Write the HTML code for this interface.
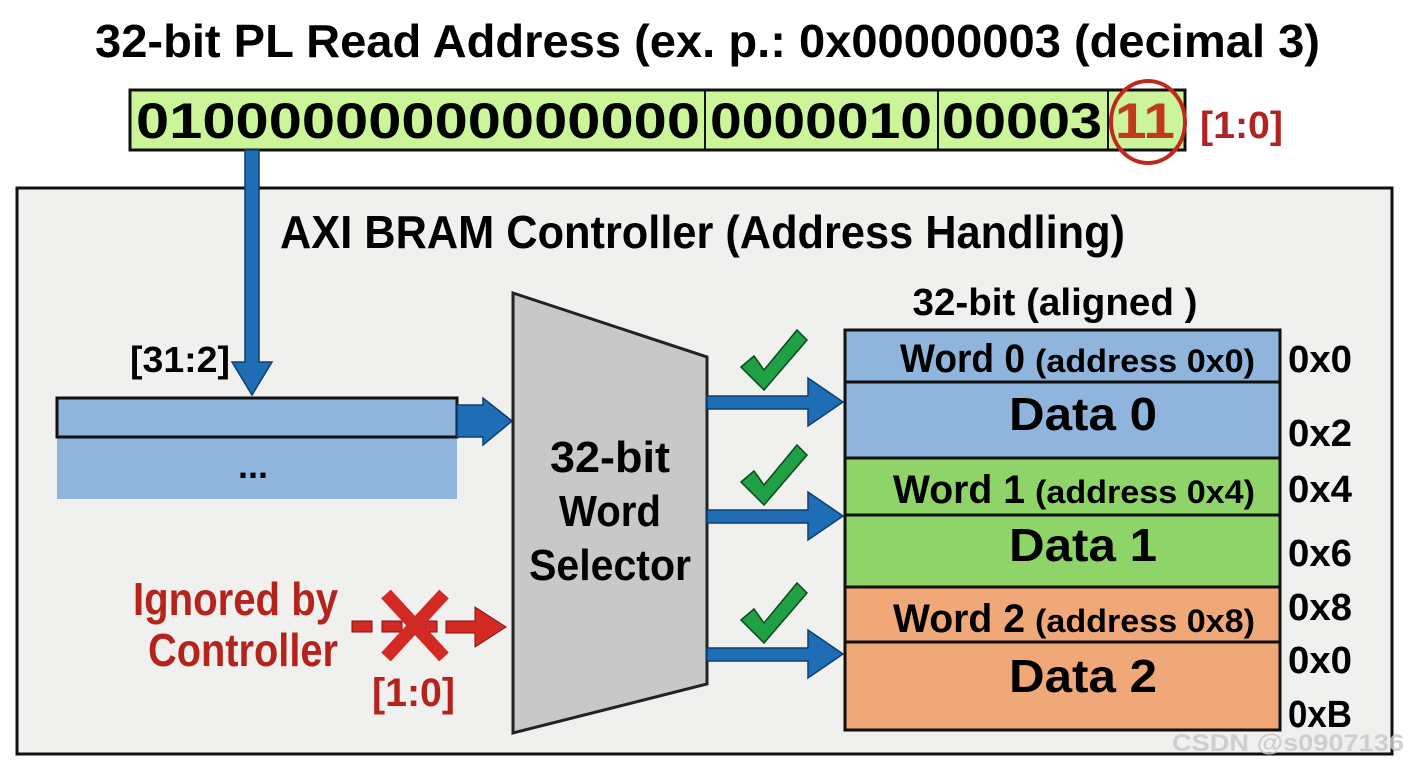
<!DOCTYPE html>
<html><head><meta charset="utf-8"><style>
html,body{margin:0;padding:0;background:#fff;}
svg{display:block;}
text{font-family:"Liberation Sans Narrow","Liberation Sans",sans-serif;font-weight:bold;}
</style></head><body>
<svg width="1408" height="768" viewBox="0 0 1408 768" xmlns="http://www.w3.org/2000/svg">
<rect width="1408" height="768" fill="#fff"/>
<text x="95" y="57" font-size="46" textLength="1225" lengthAdjust="spacingAndGlyphs">32-bit PL Read Address (ex. p.: 0x00000003 (decimal 3)</text>
<!-- binary bar -->
<rect x="130" y="90" width="1055" height="60" fill="#ccf59a" stroke="#111" stroke-width="3"/>
<line x1="705" y1="90" x2="705" y2="150" stroke="#111" stroke-width="2"/>
<line x1="938" y1="90" x2="938" y2="150" stroke="#111" stroke-width="2"/>
<line x1="1108" y1="90" x2="1108" y2="150" stroke="#111" stroke-width="2"/>
<text x="136" y="138" font-size="50" textLength="564" lengthAdjust="spacingAndGlyphs">01000000000000000</text>
<text x="710" y="138" font-size="50" textLength="222" lengthAdjust="spacingAndGlyphs">0000010</text>
<text x="942" y="138" font-size="50" textLength="160" lengthAdjust="spacingAndGlyphs">00003</text>
<text x="1115" y="138" font-size="50" fill="#c0391b" textLength="60" lengthAdjust="spacingAndGlyphs">11</text>
<ellipse cx="1148" cy="122" rx="37" ry="41" fill="none" stroke="#c0281e" stroke-width="4"/>
<text x="1200" y="138" font-size="38" fill="#b22222" font-weight="normal" textLength="83" lengthAdjust="spacingAndGlyphs">[1:0]</text>
<!-- outer box -->
<rect x="17" y="188" width="1375" height="566" fill="#f0f0ee" stroke="#111" stroke-width="3"/>
<text x="280" y="248" font-size="46" textLength="845" lengthAdjust="spacingAndGlyphs">AXI BRAM Controller (Address Handling)</text>
<!-- vertical blue arrow -->
<polygon points="245,150 259,150 259,362 272,362 252,395 232,362 245,362" fill="#1f6db5" stroke="#0d3f73" stroke-width="1.5"/>
<text x="130" y="372" font-size="36" font-weight="normal" textLength="100" lengthAdjust="spacingAndGlyphs">[31:2]</text>
<!-- register -->
<rect x="57" y="437" width="400" height="62" fill="#8fb5dc"/>
<rect x="57" y="398" width="400" height="39" fill="#8fb5dc" stroke="#111" stroke-width="3"/>
<text x="253" y="478" font-size="36" text-anchor="middle">...</text>
<polygon points="457,405 483,405 483,398 512,421 483,445 483,437 457,437" fill="#1f6db5" stroke="#0d3f73" stroke-width="1.5"/>
<!-- mux -->
<polygon points="513,293 707,357 707,684 513,733" fill="#c8c8c8" stroke="#222" stroke-width="3"/>
<text x="610" y="472" font-size="44" text-anchor="middle" textLength="120" lengthAdjust="spacingAndGlyphs">32-bit</text>
<text x="610" y="526" font-size="44" text-anchor="middle" textLength="102" lengthAdjust="spacingAndGlyphs">Word</text>
<text x="610" y="580" font-size="44" text-anchor="middle" textLength="162" lengthAdjust="spacingAndGlyphs">Selector</text>
<!-- ignored -->
<text x="338" y="615" font-size="46" fill="#b5241c" text-anchor="end" textLength="205" lengthAdjust="spacingAndGlyphs">Ignored by</text>
<text x="338" y="666" font-size="46" fill="#b5241c" text-anchor="end" textLength="190" lengthAdjust="spacingAndGlyphs">Controller</text>
<g fill="#d42a24" stroke="#7a1010" stroke-width="1">
<rect x="352" y="621" width="20" height="11"/>
<rect x="382" y="621" width="20" height="11"/>
<rect x="425" y="621" width="12" height="11"/>
<polygon points="446,621 475,621 475,607 506,627 475,647 475,633 446,633"/>
</g>
<g stroke="#d42a24" stroke-width="13" stroke-linecap="butt">
<line x1="386" y1="594" x2="444" y2="657"/>
<line x1="444" y1="594" x2="386" y2="657"/>
</g>
<text x="372" y="706" font-size="40" fill="#b5241c" font-weight="normal" textLength="83" lengthAdjust="spacingAndGlyphs">[1:0]</text>
<!-- output arrows -->
<g fill="#1f6db5" stroke="#0d3f73" stroke-width="1.5">
<polygon points="707,396 808,396 808,378 843,402 808,426 808,409 707,409"/>
<polygon points="707,510 808,510 808,492 843,516 808,540 808,523 707,523"/>
<polygon points="707,648 808,648 808,630 843,654 808,678 808,661 707,661"/>
</g>
<!-- checks -->
<g fill="#1fa045" stroke="#0c4a1c" stroke-width="1.5">
<polygon points="741,367 754,356 764,370 797,330 807,340 764,390"/>
<polygon points="741,482 754,471 764,485 797,445 807,455 764,505"/>
<polygon points="741,620 754,609 764,623 797,583 807,593 764,643"/>
</g>
<!-- memory -->
<text x="1055" y="315" font-size="38" text-anchor="middle" textLength="285" lengthAdjust="spacingAndGlyphs">32-bit (aligned )</text>
<g stroke="#111" stroke-width="3">
<rect x="845" y="330" width="435" height="52" fill="#8fb5dc"/>
<rect x="845" y="382" width="435" height="76" fill="#8fb5dc"/>
<rect x="845" y="458" width="435" height="57" fill="#8fd468"/>
<rect x="845" y="515" width="435" height="72" fill="#8fd468"/>
<rect x="845" y="587" width="435" height="55" fill="#f0a878"/>
<rect x="845" y="642" width="435" height="88" fill="#f0a878"/>
</g>
<text x="900" y="372" font-size="40" textLength="125" lengthAdjust="spacingAndGlyphs">Word 0</text>
<text x="1035" y="372" font-size="32" textLength="220" lengthAdjust="spacingAndGlyphs">(address 0x0)</text>
<text x="1083" y="430" font-size="46" text-anchor="middle" textLength="148" lengthAdjust="spacingAndGlyphs">Data 0</text>
<text x="893" y="503" font-size="40" textLength="132" lengthAdjust="spacingAndGlyphs">Word 1</text>
<text x="1035" y="503" font-size="32" textLength="220" lengthAdjust="spacingAndGlyphs">(address 0x4)</text>
<text x="1083" y="561" font-size="46" text-anchor="middle" textLength="148" lengthAdjust="spacingAndGlyphs">Data 1</text>
<text x="893" y="632" font-size="40" textLength="132" lengthAdjust="spacingAndGlyphs">Word 2</text>
<text x="1035" y="632" font-size="32" textLength="220" lengthAdjust="spacingAndGlyphs">(address 0x8)</text>
<text x="1083" y="692" font-size="46" text-anchor="middle" textLength="148" lengthAdjust="spacingAndGlyphs">Data 2</text>
<g font-size="38">
<text x="1288" y="372" textLength="64" lengthAdjust="spacingAndGlyphs">0x0</text>
<text x="1288" y="446" textLength="64" lengthAdjust="spacingAndGlyphs">0x2</text>
<text x="1288" y="502" textLength="64" lengthAdjust="spacingAndGlyphs">0x4</text>
<text x="1288" y="566" textLength="64" lengthAdjust="spacingAndGlyphs">0x6</text>
<text x="1288" y="620" textLength="64" lengthAdjust="spacingAndGlyphs">0x8</text>
<text x="1288" y="673" textLength="64" lengthAdjust="spacingAndGlyphs">0x0</text>
<text x="1288" y="727" textLength="64" lengthAdjust="spacingAndGlyphs">0xB</text>
</g>
<text x="1172" y="751" font-size="24" font-weight="normal" fill="#c8c8c8" fill-opacity="0.85" textLength="232" lengthAdjust="spacingAndGlyphs">CSDN @s0907136</text>
</svg>
</body></html>
